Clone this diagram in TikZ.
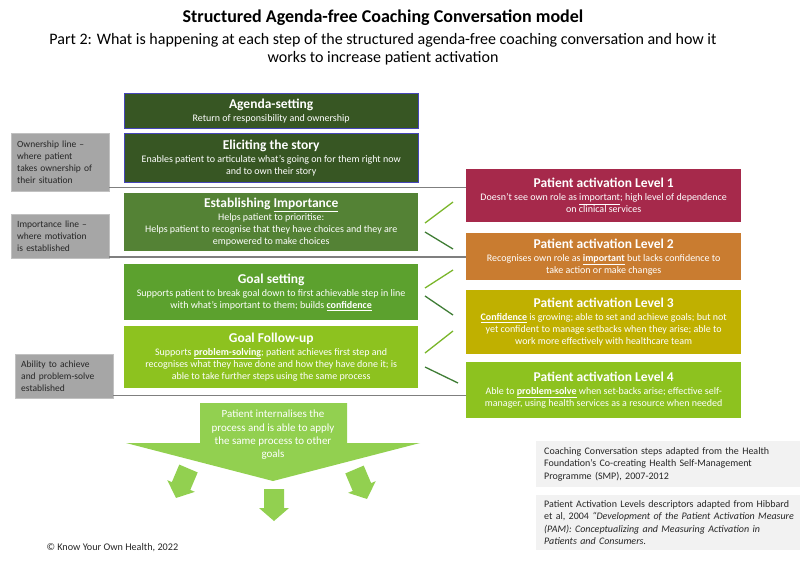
\documentclass[tikz,border=0pt]{standalone}
\usepackage{fontspec}
\setmainfont{Carlito}
\definecolor{darkstep}{HTML}{375623}
\definecolor{midstep}{HTML}{548235}
\definecolor{goalstep}{HTML}{5CA12E}
\definecolor{followstep}{HTML}{8DC21F}
\definecolor{levone}{HTML}{A6294B}
\definecolor{levtwo}{HTML}{C97C30}
\definecolor{levthree}{HTML}{C0B000}
\definecolor{levfour}{HTML}{8DC21F}
\definecolor{arrowgreen}{HTML}{92D050}
\definecolor{slashlight}{HTML}{7AB62A}
\definecolor{slashdark}{HTML}{3F7D35}
\definecolor{boxgray}{HTML}{A6A6A6}
\definecolor{notegray}{HTML}{F2F2F2}
\definecolor{rulegray}{HTML}{7F7F7F}
\newcommand{\hd}[1]{{\fontsize{13.5}{15}\selectfont\bfseries #1}}
\newcommand{\bul}[1]{\underline{\textbf{#1}}}
\newcommand{\minidown}[3]{\fill[arrowgreen,shift={(#1,#2)},rotate=#3] (-10,0) -- (10,0) -- (10,19) -- (15,19) -- (0,32) -- (-15,19) -- (-10,19) -- cycle;}

\begin{document}
\begin{tikzpicture}[x=1pt,y=-1pt,
  stepbox/.style={anchor=north west,text=white,align=center,inner sep=0pt,minimum width=294,font=\fontsize{10}{12}\selectfont},
  levbox/.style={anchor=north west,text=white,align=center,inner sep=0pt,minimum width=275,font=\fontsize{10}{12}\selectfont},
  linebox/.style={anchor=north west,fill=boxgray,draw=boxgray!70,text=black!85,align=left,text width=86,inner xsep=6,inner ysep=0pt,font=\fontsize{9.5}{12.3}\selectfont},
  notebox/.style={anchor=north west,fill=notegray,text=black!85,align=left,text width=252,inner xsep=8,inner ysep=0pt,font=\fontsize{10}{12.3}\selectfont},
  rule/.style={rulegray,line width=1.6pt}]
   \useasboundingbox (0,0) rectangle (800,563);
   \node[font=\fontsize{18}{20}\selectfont\bfseries] (title) at (383,18) {Structured Agenda-free Coaching Conversation model};
   \node[align=center,font=\fontsize{16}{18}\selectfont] (subtitle) at (383,49) {Part 2: What is happening at each step of the structured agenda-free coaching conversation and how it\\ works to increase patient activation};
   \node[stepbox,fill=darkstep,draw=blue!45!gray,minimum height=35] (agenda) at (124,93) {\hd{Agenda-setting}\\[1pt] Return of responsibility and ownership};
   \node[stepbox,fill=darkstep,draw=blue!45!gray,minimum height=49] (story) at (124,133) {\hd{Eliciting the story}\\[1pt] Enables patient to articulate what’s going on for them right now\\ and to own their story};
   \node[stepbox,fill=midstep,minimum height=58] (importance) at (124,193) {\hd{Establishing \underline{Importance}}\\[1pt] Helps patient to prioritise:\\ Helps patient to recognise that they have choices and they are\\ empowered to make choices};
   \node[stepbox,fill=goalstep,minimum height=56] (goalset) at (124,264) {\hd{Goal setting}\\[1pt] Supports patient to break goal down to first achievable step in line\\ with what’s important to them; builds \bul{confidence}};
   \node[stepbox,fill=followstep,minimum height=62] (followup) at (124,326) {\hd{Goal Follow-up}\\[1pt] Supports \bul{problem-solving}; patient achieves first step and\\ recognises what they have done and how they have done it; is\\ able to take further steps using the same process};
   \node[levbox,fill=levone,minimum height=53] (lvlone) at (466,169) {\hd{Patient activation Level 1}\\[1pt] Doesn’t see own role as \underline{important}; high level of dependence\\ on clinical services};
   \node[levbox,fill=levtwo,minimum height=47] (lvltwo) at (466,233) {\hd{Patient activation Level 2}\\[1pt] Recognises own role as \bul{important} but lacks confidence to\\ take action or make changes};
   \node[levbox,fill=levthree,minimum height=64] (lvlthree) at (466,290) {\hd{Patient activation Level 3}\\[1pt] \bul{Confidence} is growing; able to set and achieve goals; but not\\ yet confident to manage setbacks when they arise; able to\\ work more effectively with healthcare team};
   \node[levbox,fill=levfour,minimum height=56] (lvlfour) at (466,362) {\hd{Patient activation Level 4}\\[1pt] Able to \bul{problem-solve} when set-backs arise; effective self-\\ manager, using health services as a resource when needed};
   \node[linebox,minimum height=58] (ownline) at (11,133) {Ownership line --\\ where patient\\ takes ownership of\\ their situation};
   \node[linebox,minimum height=44] (impline) at (11,214) {Importance line --\\ where motivation\\ is established};
   \node[linebox,minimum height=44] (abline) at (15,354) {Ability to achieve\\ and problem-solve\\ established};
   \draw[rule] ([yshift=4pt]ownline.south east) -- ([yshift=4pt]ownline.south east -| lvlone.west);
   \draw[rule] ([yshift=1.5pt]impline.south east) -- ([yshift=1.5pt]impline.south east -| lvltwo.west);
   \draw[rule] ([yshift=3pt]abline.south east) -- ([yshift=3pt]abline.south east -| lvlfour.west);
   \draw[slashlight,line width=1.3pt] (425,223) -- (453,202);
   \draw[ slashdark,line width=1.3pt] (425,232) -- (453,249);
   \draw[slashlight,line width=1.3pt] (425,288) -- (453,270);
   \draw[ slashdark,line width=1.3pt] (425,296) -- (453,315);
   \draw[slashlight,line width=1.3pt] (425,353) -- (453,331);
   \draw[ slashdark,line width=1.3pt] (425,367) -- (458,383);
   \fill[arrowgreen] (200,403) -- (347,403) -- (347,443) -- (420,443) -- (273,481) -- (126,443) -- (200,443) -- cycle;
   \node[text=white,align=center,font=\fontsize{11}{13.3}\selectfont] (internal) at (273,435) {Patient internalises the\\ process and is able to apply\\ the same process to other\\ goals};
   \minidown{188.5}{468.5}{-23}
   \minidown{274}{489}{0}
   \minidown{354.5}{469.5}{23}
   \node[notebox,minimum height=46] (noteone) at (536,441) {Coaching Conversation steps adapted from the Health\\ Foundation’s Co-creating Health Self-Management\\ Programme (SMP), 2007-2012};
   \node[notebox,minimum height=55] (notetwo) at (536,495) {Patient Activation Levels descriptors adapted from Hibbard\\ et al, 2004 \textit{“Development of the Patient Activation Measure\\ (PAM): Conceptualizing and Measuring Activation in\\ Patients and Consumers.}};
   \node[anchor=west,text=black!85,font=\fontsize{10.2}{12}\selectfont] (copyright) at (43,548) {© Know Your Own Health, 2022};
  \end{tikzpicture}
\end{document}
